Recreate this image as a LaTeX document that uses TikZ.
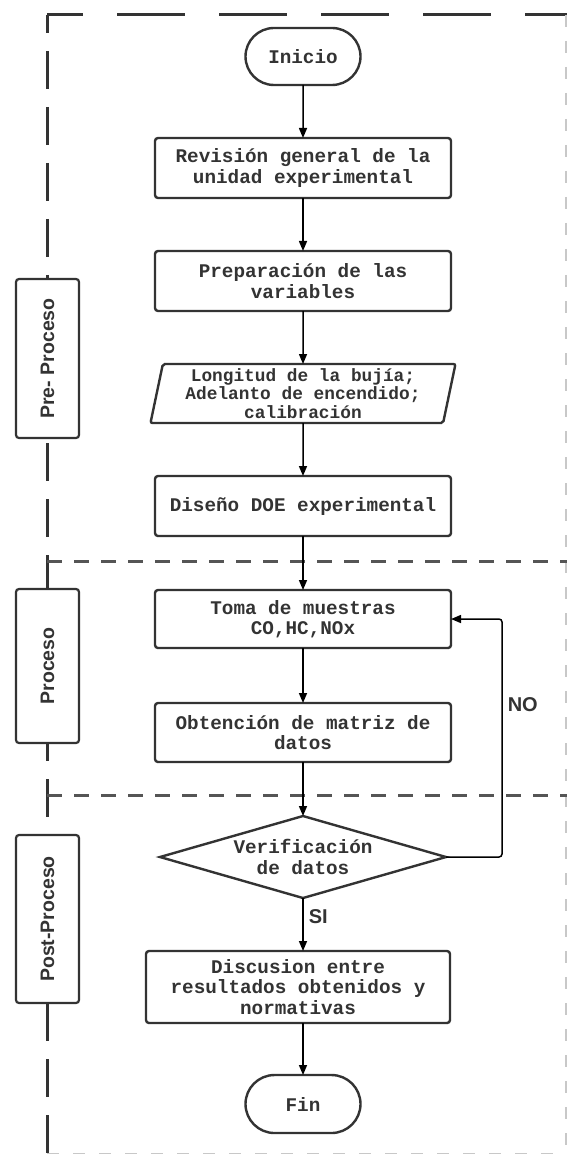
\documentclass[tikz,border=0pt]{standalone}
\usepackage{fontspec}
\setmainfont{Liberation Sans}
\setsansfont{Liberation Sans}
\setmonofont{Liberation Mono}
\usetikzlibrary{arrows.meta,positioning,shapes.geometric,shapes.misc,backgrounds}
\definecolor{ink}{HTML}{333333}
\definecolor{lanegray}{HTML}{555555}
\definecolor{cutgray}{HTML}{C8C8C8}

\begin{document}
\begin{tikzpicture}[x=1pt, y=1pt,
  node distance=53pt,
  stepbox/.style={draw=ink, line width=2.4pt, rounded corners=3pt, fill=white,
    minimum width=296pt, minimum height=60pt, inner sep=2pt, outer sep=0pt, text=ink,
    font=\ttfamily\bfseries\fontsize{19.3pt}{20.5pt}\selectfont, align=center},
  term/.style={stepbox, rounded rectangle, sharp corners,
    minimum width=119pt, minimum height=57pt},
  io/.style={stepbox, trapezium, trapezium left angle=76, trapezium right angle=104,
    trapezium stretches body, rounded corners=2pt, inner sep=0pt,
    minimum width=305pt, minimum height=59pt,
    font=\ttfamily\bfseries\fontsize{17.8pt}{18.3pt}\selectfont},
  decision/.style={stepbox, diamond, sharp corners, aspect=3.5, inner sep=0pt,
    minimum width=286pt, minimum height=82pt},
  lanelbl/.style={draw=ink, line width=2.2pt, rounded corners=3pt, fill=white,
    rotate=90, minimum height=63pt, outer sep=0pt, text=ink,
    font=\sffamily\bfseries\fontsize{19.5pt}{20pt}\selectfont},
  lbl/.style={text=ink, font=\sffamily\bfseries\fontsize{20pt}{20pt}\selectfont},
  arr/.style={-{Triangle[length=10pt,width=8pt]}, line width=1.5pt, black},
  frame/.style={line width=3pt, draw=ink},
  cut/.style={line width=1.1pt, draw=cutgray, dash pattern=on 12pt off 14pt},
  divider/.style={line width=3pt, draw=lanegray, dash pattern=on 15pt off 12pt}
]
\useasboundingbox (0,0) rectangle (567,-1155);
\node[term] (start) at (303,-56.5) {Inicio};
\node[stepbox, below=of start] (rev) {Revisión general de la\\unidad experimental};
\node[stepbox, below=of rev] (prep) {Preparación de las\\variables};
\node[io, below=of prep] (vars) {Longitud de la bujía;\\Adelanto de encendido;\\calibración};
\node[stepbox, below=of vars] (doe) {Diseño DOE experimental};
\node[stepbox, below=54pt of doe, minimum height=58pt] (toma) {Toma de muestras\\CO,HC,NOx};
\node[stepbox, below=55pt of toma, minimum height=59pt] (matriz) {Obtención de matriz de\\datos};
\node[decision, below=54pt of matriz] (verif) {Verificación\\de datos};
\node[stepbox, below=of verif, xshift=-5pt, minimum width=304pt, minimum height=72pt] (disc)
  {Discusion entre\\resultados obtenidos y\\normativas};
\node[term, below=52pt of disc, xshift=5pt, minimum height=58pt] (fin) {Fin};
\node[lanelbl, minimum width=159pt] (lpre) at (47.5,-358.5) {Pre- Proceso};
\node[lanelbl, minimum width=154pt] (lproc) at (47.5,-666) {Proceso};
\node[lanelbl, minimum width=168pt] (lpost) at (47.5,-919) {Post-Proceso};
\draw[arr] (start) -- (rev);
\draw[arr] (rev) -- (prep);
\draw[arr] (prep) -- (vars);
\draw[arr] (vars) -- (doe);
\draw[arr] (doe) -- (toma);
\draw[arr] (toma) -- (matriz);
\draw[arr] (matriz) -- (verif);
\draw[arr] (verif.south) -- node[lbl, right, pos=0.36, inner sep=5pt]{SI} (verif.south |- disc.north);
\draw[arr] (disc.south -| fin.north) -- (fin.north);
\draw[arr, rounded corners=3pt] (verif.east) -- ++(56,0) |- node[lbl, right, pos=0.32, inner sep=5pt]{NO} (toma.east);
\begin{scope}[on background layer]
  \draw[frame, dash pattern=on 68pt off 34pt, dash phase=32pt] (47,-15) -- (567,-15);
  \draw[frame, dash pattern=on 38pt off 18pt, dash phase=20pt] (47,-15) -- (47,-1155);
  \draw[cut] (566,-15) -- (566,-1155);
  \draw[cut] (47,-1153.5) -- (567,-1153.5);
  \draw[divider] (47,-561) -- (567,-561);
  \draw[divider] (47,-795) -- (567,-795);
\end{scope}
\end{tikzpicture}
\end{document}
